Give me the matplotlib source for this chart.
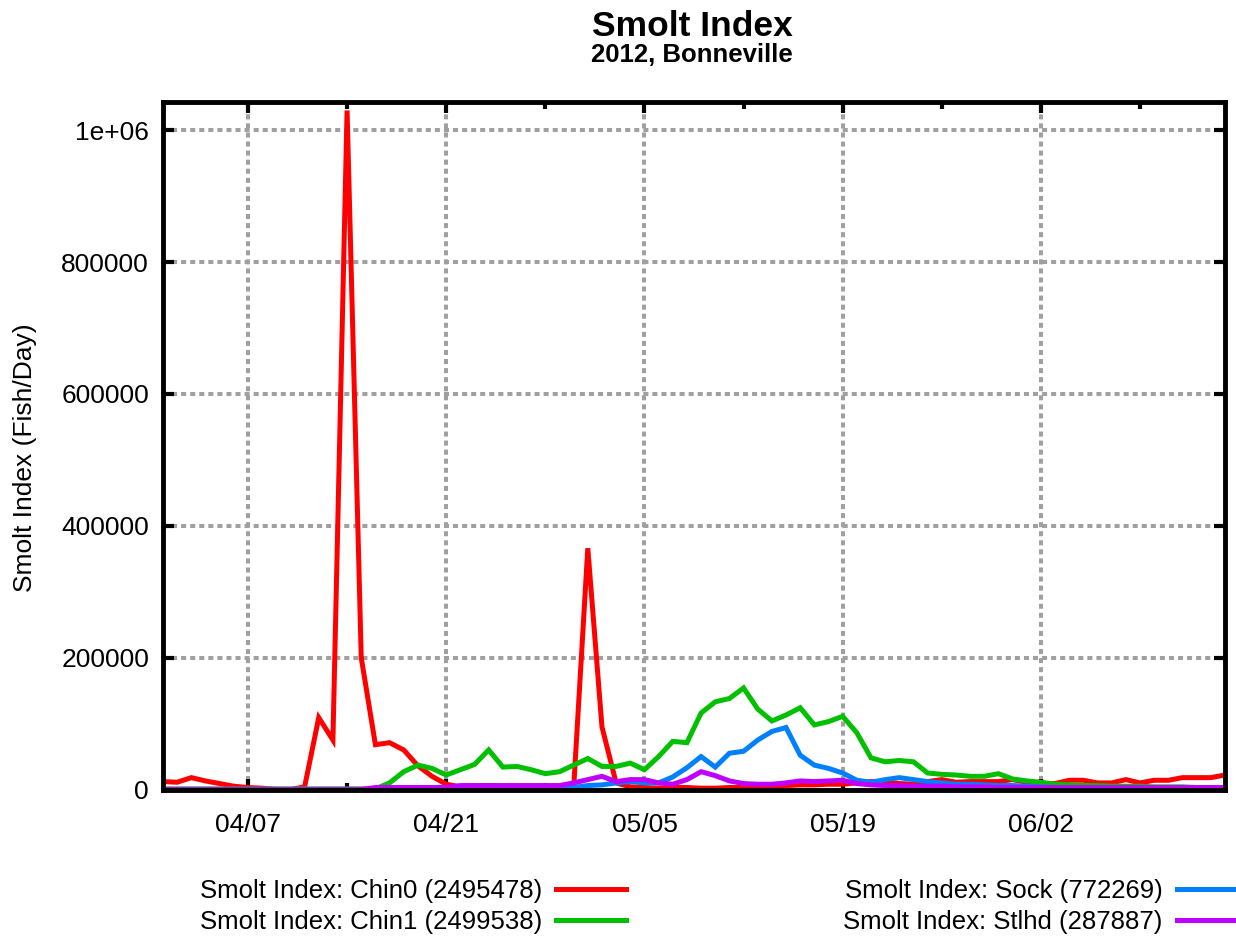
import datetime as dt
import numpy as np
import matplotlib
matplotlib.use("Agg")
import matplotlib.pyplot as plt
import matplotlib.dates as mdates
from matplotlib.ticker import FixedLocator, FuncFormatter

plt.rcParams["font.family"] = ["Liberation Sans", "DejaVu Sans"]

# daily values, 2012-04-01 .. 2012-06-15
start = dt.date(2012, 4, 1)
days = [start + dt.timedelta(days=i) for i in range(76)]

chin0 = [12000, 11000, 18000, 13000, 9000, 5000, 3000, 2000, 0, 0,
         4000, 109000, 75000, 1030000, 200000, 68000, 71000, 60000, 36000, 20000,
         8000, 4000, 5000, 6000, 4000, 3000, 2000, 2000, 1000, 2000,
         366000, 95000, 10000, 4000, 3000, 2000, 3000, 3000, 2000, 2000,
         3000, 3000, 4000, 5000, 6000, 7000, 7000, 8000, 8000, 10000,
         12000, 11000, 9000, 8000, 12000, 15000, 11000, 12000, 12000, 12000,
         15000, 11000, 9000, 9000, 14000, 14000, 10000, 10000, 15000, 10000,
         14000, 14000, 18000, 18000, 18000, 22000]

chin1 = [1000, 1000, 1000, 1000, 1000, 1000, 1000, 1000, 1000, 1000,
         1000, 1000, 1000, 1000, 1000, 1000, 10000, 27000, 37000, 32000,
         22000, 30000, 38000, 60000, 34000, 35000, 30000, 24000, 27000, 37000,
         47000, 35000, 35000, 40000, 30000, 50000, 73000, 71000, 116000, 133000,
         138000, 154000, 122000, 104000, 113000, 124000, 98000, 103000, 111000, 86000,
         48000, 42000, 44000, 42000, 25000, 23000, 22000, 20000, 20000, 24000,
         16000, 13000, 11000, 8000, 7000, 6000, 6000, 5000, 5000, 5000,
         4000, 4000, 4000, 3000, 3000, 3000]

sock = [0, 0, 0, 0, 0, 0, 0, 0, 0, 0,
        0, 0, 0, 0, 0, 0, 0, 0, 0, 0,
        0, 2000, 2000, 2000, 2000, 2000, 2000, 2000, 2000, 3000,
        6000, 7000, 10000, 12000, 10000, 10000, 19000, 33000, 50000, 34000,
        55000, 58000, 75000, 88000, 94000, 52000, 37000, 32000, 25000, 14000,
        11000, 15000, 18000, 15000, 12000, 10000, 8000, 8000, 7000, 6000,
        6000, 5000, 4000, 3000, 3000, 3000, 3000, 3000, 3000, 3000,
        3000, 3000, 3000, 3000, 3000, 3000]

stlhd = [0, 0, 0, 0, 0, 0, 0, 0, 0, 0,
         0, 0, 0, 0, 0, 3000, 3000, 3000, 3000, 3000,
         3000, 6000, 6000, 6000, 6000, 6000, 6000, 6000, 6000, 10000,
         15000, 20000, 12000, 15000, 15000, 10000, 8000, 15000, 27000, 21000,
         13000, 9000, 8000, 8000, 10000, 13000, 12000, 13000, 14000, 9000,
         7000, 6000, 6000, 5000, 5000, 5000, 4000, 4000, 4000, 3000,
         3000, 3000, 3000, 3000, 3000, 3000, 3000, 3000, 3000, 3000,
         3000, 3000, 3000, 3000, 3000, 3000]

labels = ["Smolt Index: Chin0 (2495478)", "Smolt Index: Chin1 (2499538)",
          "Smolt Index: Sock (772269)", "Smolt Index: Stlhd (287887)"]
colors = ["#ff0000", "#00c000", "#0080ff", "#c000ff"]

yticks = [0, 200000, 400000, 600000, 800000, 1000000]
major_dates = [dt.date(2012, 4, 7), dt.date(2012, 4, 21), dt.date(2012, 5, 5),
               dt.date(2012, 5, 19), dt.date(2012, 6, 2)]
minor_dates = [dt.date(2012, 4, 14), dt.date(2012, 4, 28), dt.date(2012, 5, 12),
               dt.date(2012, 5, 26), dt.date(2012, 6, 9)]

fig = plt.figure(figsize=(12.36, 9.44), dpi=100)
ax = fig.add_axes([163 / 1236, 1 - 789.5 / 944, (1225 - 163) / 1236, (789.5 - 101.5) / 944])

lines = []
for series, c, lab in zip([chin0, chin1, sock, stlhd], colors, labels):
    ln, = ax.plot(days, series, color=c, lw=3.6, label=lab, zorder=3,
                  solid_joinstyle="miter")
    lines.append(ln)

ax.set_xlim(dt.date(2012, 4, 1), dt.date(2012, 6, 15))
ax.set_ylim(0, 1.0436e6)

ax.xaxis.set_major_locator(FixedLocator(mdates.date2num(major_dates)))
ax.xaxis.set_minor_locator(FixedLocator(mdates.date2num(minor_dates)))
ax.xaxis.set_major_formatter(mdates.DateFormatter("%m/%d"))
ax.yaxis.set_major_locator(FixedLocator(yticks))
ax.yaxis.set_major_formatter(FuncFormatter(lambda v, p: "1e+06" if v >= 1e6 else "%d" % v))

ax.grid(True, which="major", color="#a0a0a0", lw=2.9, linestyle=(0, (1.25, 1.0)), zorder=1)
ax.tick_params(which="both", direction="in", top=True, right=True, width=3, colors="black",
               labelsize=19)
ax.tick_params(which="major", length=8)
ax.tick_params(which="minor", length=5)
ax.tick_params(axis="x", pad=17)
ax.tick_params(axis="y", pad=10)
for sp in ax.spines.values():
    sp.set_linewidth(3.5)
    sp.set_zorder(5)

ax.set_ylabel("Smolt Index (Fish/Day)", fontsize=19)
ax.yaxis.set_label_coords(-0.119, 0.482)

fig.text(692 / 1236, 1 - 36 / 944, "Smolt Index", ha="center", va="baseline",
         fontsize=25.5, fontweight="bold")
fig.text(692 / 1236, 1 - 61.5 / 944, "2012, Bonneville", ha="center", va="baseline",
         fontsize=18.5, fontweight="bold")

fig.legend(lines, labels, ncol=2, markerfirst=False, loc="upper left",
           bbox_to_anchor=(200 / 1236, 1 - 879 / 944), frameon=False, borderpad=0,
           borderaxespad=0, handlelength=2.72, handletextpad=0.55, columnspacing=8.44,
           labelspacing=0.26, fontsize=18.5)

fig.savefig("out.png", dpi=100)
